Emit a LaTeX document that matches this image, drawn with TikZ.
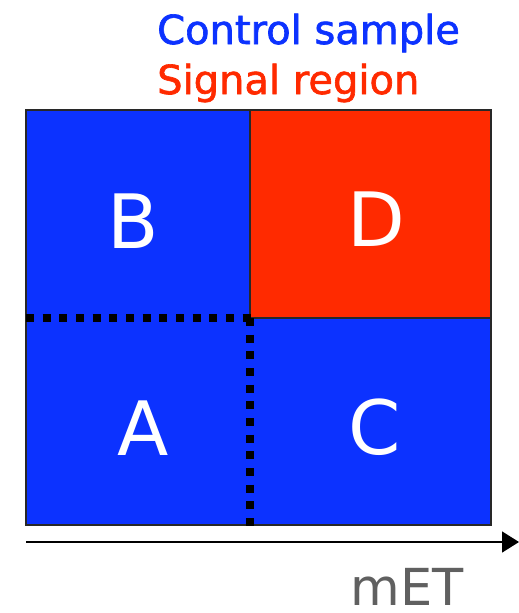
\documentclass[tikz,border=0pt]{standalone}
\usepackage{fontspec}
\setmainfont{DejaVu Sans}
\newfontfamily\legendfont{DejaVu Sans}[FakeBold=1.6]
\usetikzlibrary{arrows.meta}
\definecolor{ctrlblue}{RGB}{12,50,255}
\definecolor{sigred}{RGB}{255,42,0}
\definecolor{axgray}{RGB}{96,96,96}
\definecolor{framegray}{RGB}{40,40,40}
\tikzset{
  cell/.style={inner sep=0pt, outer sep=0pt},
  letter/.style={text=white, font=\fontsize{75}{75}\selectfont, anchor=base, inner sep=0pt},
  dotline/.style={line width=8pt, dash pattern=on 8pt off 8.67pt},
  legendtxt/.style={font=\legendfont\fontsize{40}{40}\selectfont, anchor=base west, inner sep=0pt},
}
\begin{document}
\begin{tikzpicture}[x=1pt,y=-1pt]
\useasboundingbox (0,0) rectangle (519,613);
% cells
\node[cell, fill=ctrlblue, minimum width=224pt, minimum height=208pt] (B) at (138,214) {};
\node[cell, fill=ctrlblue, minimum width=224pt, minimum height=207pt] (A) at (138,421.5) {};
\node[cell, fill=ctrlblue, minimum width=241pt, minimum height=207pt] (C) at (370.5,421.5) {};
\node[cell, fill=sigred, draw=framegray, line width=2pt, minimum width=241pt, minimum height=208pt] (D) at (370.5,214) {};
% frame
\draw[framegray, line width=2pt] (B.north west) rectangle (C.south east);
% letters
\node[letter] (lB) at (133,248) {B};
\node[letter] (lD) at (376,246) {D};
\node[letter] (lA) at (143,455) {A};
\node[letter] (lC) at (375,454) {C};
% dotted boundaries
\coordinate (hend) at (254,318);
\coordinate (vtop) at (250,318);
\coordinate (vbot) at (250,526);
\draw[dotline] (A.north west) -- (hend);
\draw[dotline] (vtop) -- (vbot);
% legend
\node[legendtxt, text=ctrlblue] (ctrl) at (157,44) {Control sample};
\node[legendtxt, text=sigred] (sig) at (157,94) {Signal region};
% axis
\coordinate (axs) at (26,542);
\coordinate (axe) at (519,542);
\draw[line width=1.5pt, -{Triangle[length=17pt,width=21pt]}] (axs) -- (axe);
\node[font=\fontsize{51}{51}\selectfont, text=axgray, anchor=base, inner sep=0pt, text depth=0pt] (met) at (407,605) {mET};
\end{tikzpicture}
\end{document}
